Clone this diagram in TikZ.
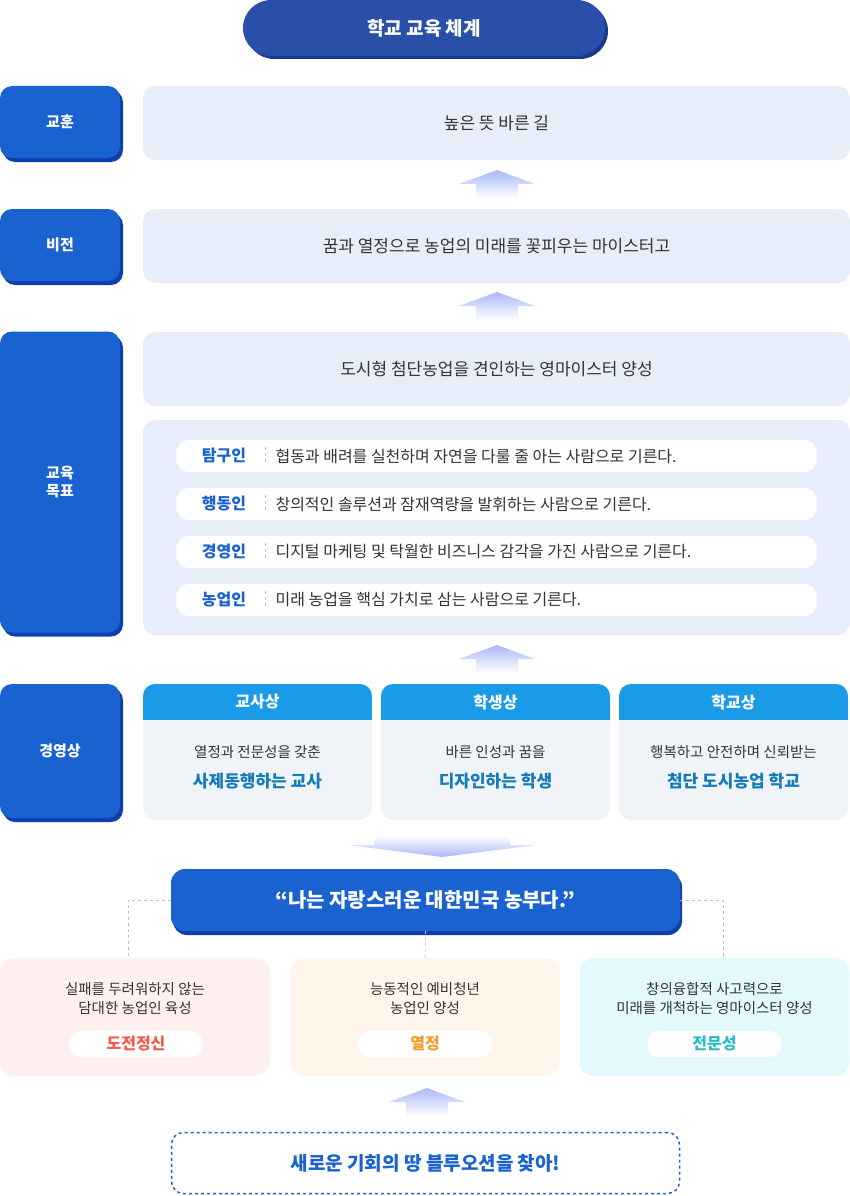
\documentclass[tikz,border=0pt]{standalone}
\usepackage{fontspec}
\setmainfont{Noto Sans CJK KR}
\usetikzlibrary{positioning}
\definecolor{lblblue}{HTML}{1A62D0}
\definecolor{lblshade}{HTML}{0D3FB0}
\definecolor{ttlblue}{HTML}{2A4FA8}
\definecolor{ttlshade}{HTML}{1B3A8E}
\definecolor{panel}{HTML}{E8EEF9}
\definecolor{colhead}{HTML}{1A9BE8}
\definecolor{colbody}{HTML}{F0F3F7}
\definecolor{txtgray}{HTML}{333333}
\definecolor{goalblue}{HTML}{1A62D0}
\definecolor{arrblue}{HTML}{A9B8F8}
\definecolor{redbg}{HTML}{FFF0EF}
\definecolor{orgbg}{HTML}{FFF5EA}
\definecolor{cyanbg}{HTML}{E4F9FD}
\definecolor{redtx}{HTML}{F5574A}
\definecolor{orgtx}{HTML}{F79A28}
\definecolor{cyantx}{HTML}{2BB8C8}
\tikzset{
  lbl/.style={rounded corners=12pt, fill=lblblue, text=white, font=\bfseries\fontsize{15}{18}\selectfont,
    preaction={fill=lblshade, transform canvas={shift={(3pt,-4pt)}}}, inner sep=0pt, align=center},
  pan/.style={rounded corners=12pt, fill=panel, text=txtgray, font=\fontsize{17}{20}\selectfont, inner sep=0pt},
  goal/.style={rounded corners=13pt, fill=white, minimum width=641pt, minimum height=32pt, inner sep=0pt},
  gname/.style={text=goalblue, font=\bfseries\fontsize{16}{19}\selectfont},
  gtext/.style={text=txtgray, font=\fontsize{16}{19}\selectfont, anchor=west},
  colhd/.style={fill=colhead, text=white, font=\bfseries\fontsize{16}{19}\selectfont, minimum width=229pt, minimum height=36pt, inner sep=0pt},
  colbd/.style={rounded corners=12pt, fill=colbody, minimum width=229pt, minimum height=136pt, inner sep=0pt},
  small/.style={text=txtgray, font=\fontsize{14.5}{19}\selectfont, align=center},
  big/.style={text=colhead!80!black, font=\bfseries\fontsize{17}{20}\selectfont},
  vbox/.style={rounded corners=14pt, minimum width=270pt, minimum height=118pt, inner sep=0pt},
  pill/.style={rounded corners=12pt, fill=white, minimum width=134pt, minimum height=26pt, inner sep=0pt, font=\bfseries\fontsize{16}{19}\selectfont},
  link/.style={draw=black!25, dashed, line width=0.7pt}
}
\newcommand{\uparr}[2]{% shaded up arrow, tip at (#1,#2)
  \shade[top color=arrblue, bottom color=white] (#1,#2) -- ++(38,14) -- ++(-17,0) -- ++(0,14) -- ++(-42,0) -- ++(0,-14) -- ++(-17,0) -- cycle;}
\begin{document}
\begin{tikzpicture}[x=1pt, y=-1pt]
\useasboundingbox (0,0) rectangle (850,1196);
% title
\node[rounded corners=28pt, fill=ttlblue, text=white, minimum width=362pt, minimum height=56pt,
  preaction={fill=ttlshade, transform canvas={shift={(3pt,-3pt)}}}, font=\bfseries\fontsize{19}{22}\selectfont] (title) at (424,28) {학교 교육 체계};
% left labels
\node[lbl, minimum width=120pt, minimum height=72pt] (motto) at (60,122) {교훈};
\node[lbl, minimum width=120pt, minimum height=72pt] (vision) at (60,245) {비전};
\node[lbl, minimum width=120pt, minimum height=301pt] (goals) at (60,482) {교육\\목표};
\node[lbl, minimum width=120pt, minimum height=134pt] (image) at (60,751) {경영상};
% panels
\node[pan, minimum width=707pt, minimum height=74pt] (pmotto) at (496.5,123) {높은 뜻 바른 길};
\node[pan, minimum width=707pt, minimum height=74pt] (pvision) at (496.5,246) {꿈과 열정으로 농업의 미래를 꽃피우는 마이스터고};
\node[pan, minimum width=707pt, minimum height=74pt] (pgoal) at (496.5,369) {도시형 첨단농업을 견인하는 영마이스터 양성};
\node[pan, minimum width=707pt, minimum height=215pt] (pgoals) at (496.5,527.5) {};
\foreach \y/\n/\t [count=\i] in {456/탐구인/협동과 배려를 실천하며 자연을 다룰 줄 아는 사람으로 기른다.,
    504/행동인/창의적인 솔루션과 잠재역량을 발휘하는 사람으로 기른다.,
    552/경영인/디지털 마케팅 및 탁월한 비즈니스 감각을 가진 사람으로 기른다.,
    600/농업인/미래 농업을 핵심 가치로 삼는 사람으로 기른다.}{
  \node[goal] (g\i) at (496.5,\y) {};
  \node[gname] (gn\i) at (224,\y) {\n};
  \draw[dashed, draw=black!25] (265,\y-9) -- (265,\y+9);
  \node[gtext] (gt\i) at (272,\y) {\t};
}
% arrows
\uparr{497}{170}
\uparr{497}{292}
\uparr{497}{645}
% columns
\foreach \x/\h/\a/\b [count=\i] in {257.5/교사상/열정과 전문성을 갖춘/사제동행하는 교사,
    495.5/학생상/바른 인성과 꿈을/디자인하는 학생,
    733.5/학교상/행복하고 안전하며 신뢰받는/첨단 도시농업 학교}{
  \node[colbd] (c\i) at (\x,752) {};
  \begin{scope}
    \clip[rounded corners=12pt] (\x-114.5,684) rectangle (\x+114.5,820);
    \node[colhd] (ch\i) at (\x,702) {\h};
  \end{scope}
  \node[small] (ca\i) at (\x,752) {\a};
  \node[big] (cb\i) at (\x,781) {\b};
}
% down arrow
\shade[top color=white, bottom color=arrblue] (442,857) -- (536,845) -- (510,845) -- (510,836) -- (374,836) -- (374,845) -- (348,845) -- cycle;
% motto box
\node[rounded corners=14pt, fill=lblblue, text=white, minimum width=509pt, minimum height=62pt,
  preaction={fill=lblshade, transform canvas={shift={(2pt,-4pt)}}}, font=\bfseries\fontsize{20}{24}\selectfont] (slogan) at (425.5,900) {“나는 자랑스러운 대한민국 농부다.”};
% values
\node[vbox, fill=redbg] (v1) at (135,1017) {};
\node[vbox, fill=orgbg] (v2) at (425,1017) {};
\node[vbox, fill=cyanbg] (v3) at (714.5,1017) {};
\coordinate (l1) at (128,900);
\coordinate (l3) at (723,900);
\draw[link] (slogan.west) -- (l1) -- (v1.north -| l1);
\draw[link] (slogan.south) -- (v2.north);
\draw[link] (slogan.east) -- (l3) -- (v3.north -| l3);
\node[small] (va1) at (135,999) {실패를 두려워하지 않는\\담대한 농업인 육성};
\node[small] (va2) at (425,999) {능동적인 예비청년\\농업인 양성};
\node[small] (va3) at (714.5,999) {창의융합적 사고력으로\\미래를 개척하는 영마이스터 양성};
\node[pill, text=redtx] (vp1) at (136,1044) {도전정신};
\node[pill, text=orgtx] (vp2) at (425,1044) {열정};
\node[pill, text=cyantx] (vp3) at (714.5,1044) {전문성};
\uparr{427}{1088}
% blue ocean
\node[rounded corners=12pt, draw=lblblue, dashed, line width=1.5pt, minimum width=508pt, minimum height=61pt,
  text=lblblue, font=\bfseries\fontsize{19}{22}\selectfont] (ocean) at (425.5,1163) {새로운 기회의 땅 블루오션을 찾아!};
\end{tikzpicture}
\end{document}
